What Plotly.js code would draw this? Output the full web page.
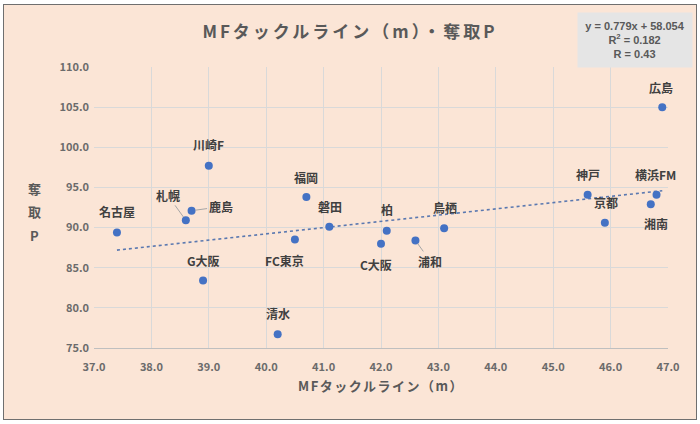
<!DOCTYPE html>
<html><head><meta charset="utf-8">
<script src="https://cdn.plot.ly/plotly-3.0.1.min.js"></script>
<style>
html,body{margin:0;padding:0;background:#fff;}
#frame{position:absolute;left:3px;top:4px;width:692px;height:414px;border:1px solid #6f6f6f;background:#FBE5D6;}
#chart{position:absolute;left:0;top:0;width:700px;height:424px;}
#chart .gtitle{letter-spacing:3px;}
#chart .g-xtitle text{letter-spacing:1.5px;}
</style>
</head><body>
<div id="frame"></div>
<div id="chart"></div>
<script>
// ---- data ----
const teams = ["名古屋","札幌","鹿島","川崎F","G大阪","清水","FC東京","福岡","磐田","柏","C大阪","浦和","鳥栖","神戸","京都","横浜FM","湘南","広島"];
const tackleLine = [37.4,38.6,38.7,39.0,38.9,40.2,40.5,40.7,41.1,42.1,42.0,42.6,43.1,45.6,45.9,46.8,46.7,46.9];
const dakkyuP = [89.4,90.9,92.1,97.7,83.4,76.7,88.5,93.8,90.1,89.6,88.0,88.4,89.9,94.1,90.6,94.1,92.9,105.0];
const slope = 0.779, intercept = 58.054;
const statText = ["y = 0.779x + 58.054","R<sup>2</sup> = 0.182","R = 0.43"];
const yTitleChars = ["奪","取","P"];
const xTicks = [37,38,39,40,41,42,43,44,45,46,47];
const yTicks = [75,80,85,90,95,100,105,110];

// ---- label placement (pixel offsets; leader = draw leader line) ----
const labelPos = {
 "名古屋":[0,21,false],"札幌":[-18,25,true],"鹿島":[29,4,true],"川崎F":[0,21,false],
 "G大阪":[0,20,false],"清水":[0,21,false],"FC東京":[-10,-21,false],"福岡":[0,20,false],
 "磐田":[1,20,false],"柏":[0,21,false],"C大阪":[-5,-21,false],"浦和":[15,-21,true],
 "鳥栖":[1,21,false],"神戸":[0,20,false],"京都":[1,20,false],"横浜FM":[-1,20,false],
 "湘南":[5,-19,false],"広島":[-1,20,false]
};

const fam = '"Noto Sans CJK JP","Noto Sans",sans-serif';
const textCol = '#595959';

const xmin = Math.min(...tackleLine), xmax = Math.max(...tackleLine);
const traces = [
 {x:[xmin,xmax], y:[slope*xmin+intercept, slope*xmax+intercept], mode:'lines', type:'scatter',
  line:{color:'#5a78b0',width:1.6,dash:'dot'}, hoverinfo:'skip'},
 {x:tackleLine, y:dakkyuP, mode:'markers', type:'scatter', text:teams,
  marker:{color:'#4472C4',size:8}}
];

const annotations = teams.map((t,i)=>{
 const p = labelPos[t];
 const base = {x:tackleLine[i], y:dakkyuP[i], xref:'x', yref:'y', text:'<b>'+t+'</b>',
   font:{family:fam,size:12,color:'#404040'}};
 if(p[2]){
   return Object.assign(base,{showarrow:true,arrowhead:0,arrowwidth:1,arrowcolor:'#a6a6a6',
     ax:p[0], ay:-p[1], standoff:4});
 }
 return Object.assign(base,{showarrow:false, xshift:p[0], yshift:p[1]});
});
// y axis stacked title
const yTitleY = [0.569,0.484,0.399];
yTitleChars.forEach((c,i)=>{
 annotations.push({xref:'paper',yref:'paper',x:-0.1045,y:yTitleY[i],xanchor:'center',yanchor:'middle',
  showarrow:false,text:'<b>'+c+'</b>',font:{family:fam,size:13,color:textCol}});
});
// stat box
annotations.push({xref:'paper',yref:'paper',x:0.9425,y:1.096,xanchor:'center',yanchor:'middle',
  showarrow:false,text:'<b>'+statText.join('<br>')+'</b>',align:'center',
  bgcolor:'#e5e5e5',borderpad:0,width:114,height:54,
  font:{family:'"Liberation Sans","DejaVu Sans",sans-serif',size:11,color:textCol}});

const layout = {
 width:700,height:424,
 margin:{l:94,r:32,t:67,b:76},
 paper_bgcolor:'rgba(0,0,0,0)', plot_bgcolor:'rgba(0,0,0,0)',
 showlegend:false,
 title:{text:'<b>MFタックルライン（m）・奪取P</b>',x:0.5,xanchor:'center',y:0.925,yanchor:'middle',
   font:{family:fam,size:17,color:textCol}},
 xaxis:{range:[37,47],tickvals:xTicks,ticktext:xTicks.map(v=>'<b>'+v.toFixed(1)+'</b>'),
   showgrid:true,gridcolor:'#d9d9d9',gridwidth:1,zeroline:false,
   showline:true,linecolor:'#bfbfbf',ticks:'',ticklabelstandoff:9,
   tickfont:{family:fam,size:11,color:'#6b6b6b'},
   title:{text:'<b>MFタックルライン（m）</b>',standoff:8,font:{family:fam,size:13,color:textCol}}},
 yaxis:{range:[75,110],tickvals:yTicks,ticktext:yTicks.map(v=>'<b>'+v.toFixed(1)+'</b>'),
   showgrid:true,gridcolor:'#d9d9d9',gridwidth:1,zeroline:false,showline:false,ticks:'',
   ticklabelstandoff:4,
   tickfont:{family:fam,size:11,color:'#6b6b6b'}},
 annotations:annotations
};
Plotly.newPlot('chart',traces,layout,{staticPlot:true,displayModeBar:false});
</script>
</body></html>
